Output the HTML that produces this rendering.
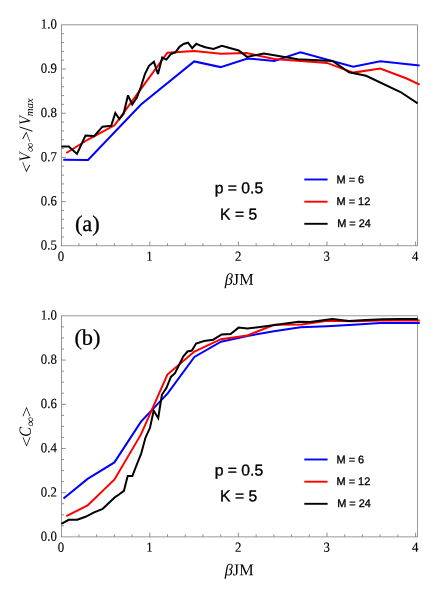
<!DOCTYPE html>
<html>
<head>
<meta charset="utf-8">
<title>Figure</title>
<style>
html,body{margin:0;padding:0;background:#fff;}
body{width:436px;height:596px;overflow:hidden;font-family:"Liberation Serif",serif;}
svg{display:block;will-change:transform;}
text{text-rendering:geometricPrecision;}
</style>
</head>
<body>
<svg width="436" height="596" viewBox="0 0 436 596">
<rect width="436" height="596" fill="#fff"/>
<rect x="61.5" y="24.85" width="355.95" height="220.95000000000002" fill="none" stroke="#707070" stroke-width="0.72"/>
<path d="M78.92,245.8V243.30M96.64,245.8V243.30M114.36,245.8V243.30M132.08,245.8V243.30M149.8,245.8V241.50M167.52,245.8V243.30M185.24,245.8V243.30M202.96,245.8V243.30M220.68,245.8V243.30M238.4,245.8V241.50M256.12,245.8V243.30M273.84,245.8V243.30M291.56,245.8V243.30M309.28,245.8V243.30M327.0,245.8V241.50M344.72,245.8V243.30M362.44,245.8V243.30M380.16,245.8V243.30M397.88,245.8V243.30M415.6,245.8V241.50M61.5,201.61H65.80M61.5,157.42H65.80M61.5,113.23H65.80M61.5,69.04H65.80M61.5,236.96H64.00M61.5,228.12H64.00M61.5,219.29H64.00M61.5,210.45H64.00M61.5,192.77H64.00M61.5,183.93H64.00M61.5,175.1H64.00M61.5,166.26H64.00M61.5,148.58H64.00M61.5,139.74H64.00M61.5,130.91H64.00M61.5,122.07H64.00M61.5,104.39H64.00M61.5,95.55H64.00M61.5,86.72H64.00M61.5,77.88H64.00M61.5,60.2H64.00M61.5,51.36H64.00M61.5,42.53H64.00M61.5,33.69H64.00" fill="none" stroke="#7c7c7c" stroke-width="0.85"/>
<polyline points="63.2,159.7 88.0,160.0 141.0,104.5 194.2,61.4 220.6,67.1 247.5,58.5 274.3,60.9 300.4,52.3 353.2,66.8 380.3,61.3 419.6,65.6" fill="none" stroke="#0000ff" stroke-width="2.0" stroke-linejoin="miter" stroke-miterlimit="3" stroke-linecap="butt"/>
<polyline points="66.3,153.0 88.0,139.5 114.5,125.3 141.2,88.7 167.4,52.7 194.2,50.9 220.8,53.7 246.3,53.0 274.3,59.0 327.0,62.9 353.2,72.6 380.3,68.6 406.7,78.5 419.6,84.6" fill="none" stroke="#ff0000" stroke-width="2.0" stroke-linejoin="miter" stroke-miterlimit="3" stroke-linecap="butt"/>
<polyline points="61.4,146.4 68.7,146.5 77.0,153.9 85.5,135.5 94.1,136.1 102.5,126.7 111.2,125.8 115.3,113.0 119.4,119.0 123.6,113.7 128.0,95.3 132.2,104.5 136.9,97.5 141.0,86.5 144.9,74.1 149.0,65.8 153.9,61.7 158.0,74.1 162.2,57.5 166.4,59.6 170.8,54.1 175.4,52.3 179.5,46.8 183.6,44.0 188.0,42.7 192.2,48.2 196.3,43.8 201.1,45.8 205.2,47.3 213.5,48.9 221.8,45.7 238.7,50.5 247.0,56.9 263.9,53.4 297.7,59.2 332.5,61.0 349.0,72.3 366.1,75.8 400.5,92.0 417.7,103.3" fill="none" stroke="#000000" stroke-width="2.0" stroke-linejoin="miter" stroke-miterlimit="3" stroke-linecap="butt"/>
<text transform="translate(56.9,249.55) rotate(0.05) scale(0.93,1)" font-family='"Liberation Serif", serif' font-size="13.8" text-anchor="end" stroke="#000" stroke-width="0.15">0.5</text>
<text transform="translate(56.9,205.36) rotate(0.05) scale(0.93,1)" font-family='"Liberation Serif", serif' font-size="13.8" text-anchor="end" stroke="#000" stroke-width="0.15">0.6</text>
<text transform="translate(56.9,161.17) rotate(0.05) scale(0.93,1)" font-family='"Liberation Serif", serif' font-size="13.8" text-anchor="end" stroke="#000" stroke-width="0.15">0.7</text>
<text transform="translate(56.9,116.98) rotate(0.05) scale(0.93,1)" font-family='"Liberation Serif", serif' font-size="13.8" text-anchor="end" stroke="#000" stroke-width="0.15">0.8</text>
<text transform="translate(56.9,72.79) rotate(0.05) scale(0.93,1)" font-family='"Liberation Serif", serif' font-size="13.8" text-anchor="end" stroke="#000" stroke-width="0.15">0.9</text>
<text transform="translate(56.9,28.6) rotate(0.05) scale(0.93,1)" font-family='"Liberation Serif", serif' font-size="13.8" text-anchor="end" stroke="#000" stroke-width="0.15">1.0</text>
<text transform="translate(60.9,260.7) rotate(0.05) scale(0.93,1)" font-family='"Liberation Serif", serif' font-size="13.8" text-anchor="middle" stroke="#000" stroke-width="0.15">0</text>
<text transform="translate(149.5,260.7) rotate(0.05) scale(0.93,1)" font-family='"Liberation Serif", serif' font-size="13.8" text-anchor="middle" stroke="#000" stroke-width="0.15">1</text>
<text transform="translate(238.1,260.7) rotate(0.05) scale(0.93,1)" font-family='"Liberation Serif", serif' font-size="13.8" text-anchor="middle" stroke="#000" stroke-width="0.15">2</text>
<text transform="translate(326.7,260.7) rotate(0.05) scale(0.93,1)" font-family='"Liberation Serif", serif' font-size="13.8" text-anchor="middle" stroke="#000" stroke-width="0.15">3</text>
<text transform="translate(415.3,260.7) rotate(0.05) scale(0.93,1)" font-family='"Liberation Serif", serif' font-size="13.8" text-anchor="middle" stroke="#000" stroke-width="0.15">4</text>
<text transform="translate(239.2,284.7) rotate(0.05)" font-family='"Liberation Serif", serif' font-size="16.3" text-anchor="middle" ><tspan font-style="italic">β</tspan>JM</text>
<text transform="translate(74.9,231.1) rotate(0.05)" font-family='"Liberation Serif", serif' font-size="22.4" text-anchor="start" stroke="#000" stroke-width="0.3">(a)</text>
<text transform="translate(214.7,193.2) rotate(0.05)" font-family='"Liberation Sans", sans-serif' font-size="15.7" text-anchor="start" stroke="#000" stroke-width="0.35">p = 0.5</text>
<text transform="translate(220.1,219.4) rotate(0.05)" font-family='"Liberation Sans", sans-serif' font-size="15.7" text-anchor="start" stroke="#000" stroke-width="0.35">K = 5</text>
<line x1="304.3" x2="327.6" y1="179.5" y2="179.5" stroke="#0000ff" stroke-width="1.9"/>
<text transform="translate(336.5,183.15) rotate(0.05)" font-family='"Liberation Sans", sans-serif' font-size="10.95" text-anchor="start" stroke="#000" stroke-width="0.32">M = 6</text>
<line x1="304.3" x2="327.6" y1="201.7" y2="201.7" stroke="#ff0000" stroke-width="1.9"/>
<text transform="translate(336.5,205.0) rotate(0.05)" font-family='"Liberation Sans", sans-serif' font-size="10.95" text-anchor="start" stroke="#000" stroke-width="0.32">M = 12</text>
<line x1="304.3" x2="327.6" y1="223.8" y2="223.8" stroke="#000000" stroke-width="1.9"/>
<text transform="translate(337.2,227.1) rotate(0.05)" font-family='"Liberation Sans", sans-serif' font-size="10.95" text-anchor="start" stroke="#000" stroke-width="0.32">M = 24</text>
<g transform="translate(29.8,0) rotate(-90.05)" font-family='"Liberation Serif", serif'>
<text transform="translate(-175.9,1.8) skewX(-21) scale(1.09,1)" font-size="16.5" font-style="italic">&lt;</text>
<text transform="translate(-161.5,0.3) scale(0.9,1)" font-size="16.3" font-style="italic">V</text>
<text transform="translate(-152.7,4.0) skewX(-14) scale(1.1,1)" font-size="12">∞</text>
<text transform="translate(-144.55,1.8) skewX(-21) scale(1.09,1)" font-size="16.5" font-style="italic">&gt;</text>
<text transform="translate(-131.8,2.3)" font-size="19">/</text>
<text transform="translate(-125.05,0.3) scale(0.9,1)" font-size="16.3" font-style="italic">V</text>
<text transform="translate(-116.2,3.2)" font-size="10.8" font-style="italic">max</text>
</g>
<rect x="61.5" y="315.85" width="355.95" height="221.04999999999995" fill="none" stroke="#707070" stroke-width="0.72"/>
<path d="M78.92,536.9V534.40M96.64,536.9V534.40M114.36,536.9V534.40M132.08,536.9V534.40M149.8,536.9V532.60M167.52,536.9V534.40M185.24,536.9V534.40M202.96,536.9V534.40M220.68,536.9V534.40M238.4,536.9V532.60M256.12,536.9V534.40M273.84,536.9V534.40M291.56,536.9V534.40M309.28,536.9V534.40M327.0,536.9V532.60M344.72,536.9V534.40M362.44,536.9V534.40M380.16,536.9V534.40M397.88,536.9V534.40M415.6,536.9V532.60M61.5,492.69H65.80M61.5,448.48H65.80M61.5,404.27H65.80M61.5,360.06H65.80M61.5,525.85H64.00M61.5,514.79H64.00M61.5,503.74H64.00M61.5,481.64H64.00M61.5,470.58H64.00M61.5,459.53H64.00M61.5,437.43H64.00M61.5,426.38H64.00M61.5,415.32H64.00M61.5,393.22H64.00M61.5,382.16H64.00M61.5,371.11H64.00M61.5,349.01H64.00M61.5,337.96H64.00M61.5,326.9H64.00" fill="none" stroke="#7c7c7c" stroke-width="0.85"/>
<polyline points="63.5,498.6 87.6,478.9 114.4,462.4 141.0,421.6 167.7,393.4 194.4,357.0 221.0,341.7 247.3,336.0 273.9,331.3 300.6,327.2 327.0,326.2 353.2,324.8 380.2,322.9 419.8,323.1" fill="none" stroke="#0000ff" stroke-width="2.0" stroke-linejoin="miter" stroke-miterlimit="3" stroke-linecap="butt"/>
<polyline points="66.3,516.1 87.6,505.5 114.5,479.4 141.0,434.4 167.4,374.5 194.4,351.5 221.0,339.2 247.2,335.5 274.2,324.8 301.8,324.5 327.2,320.8 353.2,321.2 380.4,320.6 419.8,320.4" fill="none" stroke="#ff0000" stroke-width="2.0" stroke-linejoin="miter" stroke-miterlimit="3" stroke-linecap="butt"/>
<polyline points="61.4,523.9 68.7,519.8 77.3,519.8 85.5,516.8 94.1,512.4 102.7,508.8 111.7,500.3 114.8,497.4 119.0,494.5 123.9,490.8 127.7,475.9 132.4,475.9 136.6,465.0 141.1,454.0 145.5,437.5 150.0,427.8 153.7,410.6 158.2,418.2 161.9,394.8 166.5,387.9 170.9,376.9 175.0,373.2 179.3,364.5 183.4,356.3 187.5,351.5 191.9,350.5 196.1,343.6 204.0,341.1 213.2,339.7 221.7,334.5 230.6,334.1 238.6,327.6 247.4,328.6 263.9,326.4 298.5,321.8 310.2,321.9 332.2,319.0 349.0,321.1 366.1,319.9 382.5,319.2 400.5,318.9 417.8,318.9" fill="none" stroke="#000000" stroke-width="2.0" stroke-linejoin="miter" stroke-miterlimit="3" stroke-linecap="butt"/>
<text transform="translate(56.9,540.65) rotate(0.05) scale(0.93,1)" font-family='"Liberation Serif", serif' font-size="13.8" text-anchor="end" stroke="#000" stroke-width="0.15">0.0</text>
<text transform="translate(56.9,496.44) rotate(0.05) scale(0.93,1)" font-family='"Liberation Serif", serif' font-size="13.8" text-anchor="end" stroke="#000" stroke-width="0.15">0.2</text>
<text transform="translate(56.9,452.23) rotate(0.05) scale(0.93,1)" font-family='"Liberation Serif", serif' font-size="13.8" text-anchor="end" stroke="#000" stroke-width="0.15">0.4</text>
<text transform="translate(56.9,408.02) rotate(0.05) scale(0.93,1)" font-family='"Liberation Serif", serif' font-size="13.8" text-anchor="end" stroke="#000" stroke-width="0.15">0.6</text>
<text transform="translate(56.9,363.81) rotate(0.05) scale(0.93,1)" font-family='"Liberation Serif", serif' font-size="13.8" text-anchor="end" stroke="#000" stroke-width="0.15">0.8</text>
<text transform="translate(56.9,319.6) rotate(0.05) scale(0.93,1)" font-family='"Liberation Serif", serif' font-size="13.8" text-anchor="end" stroke="#000" stroke-width="0.15">1.0</text>
<text transform="translate(60.9,551.7) rotate(0.05) scale(0.93,1)" font-family='"Liberation Serif", serif' font-size="13.8" text-anchor="middle" stroke="#000" stroke-width="0.15">0</text>
<text transform="translate(149.5,551.7) rotate(0.05) scale(0.93,1)" font-family='"Liberation Serif", serif' font-size="13.8" text-anchor="middle" stroke="#000" stroke-width="0.15">1</text>
<text transform="translate(238.1,551.7) rotate(0.05) scale(0.93,1)" font-family='"Liberation Serif", serif' font-size="13.8" text-anchor="middle" stroke="#000" stroke-width="0.15">2</text>
<text transform="translate(326.7,551.7) rotate(0.05) scale(0.93,1)" font-family='"Liberation Serif", serif' font-size="13.8" text-anchor="middle" stroke="#000" stroke-width="0.15">3</text>
<text transform="translate(415.3,551.7) rotate(0.05) scale(0.93,1)" font-family='"Liberation Serif", serif' font-size="13.8" text-anchor="middle" stroke="#000" stroke-width="0.15">4</text>
<text transform="translate(239.2,575.3) rotate(0.05)" font-family='"Liberation Serif", serif' font-size="16.3" text-anchor="middle" ><tspan font-style="italic">β</tspan>JM</text>
<text transform="translate(74.4,344.7) rotate(0.05)" font-family='"Liberation Serif", serif' font-size="22.4" text-anchor="start" stroke="#000" stroke-width="0.3">(b)</text>
<text transform="translate(214.7,475.4) rotate(0.05)" font-family='"Liberation Sans", sans-serif' font-size="15.7" text-anchor="start" stroke="#000" stroke-width="0.35">p = 0.5</text>
<text transform="translate(220.1,501.3) rotate(0.05)" font-family='"Liberation Sans", sans-serif' font-size="15.7" text-anchor="start" stroke="#000" stroke-width="0.35">K = 5</text>
<line x1="304.3" x2="327.6" y1="459.5" y2="459.5" stroke="#0000ff" stroke-width="1.9"/>
<text transform="translate(336.5,463.15) rotate(0.05)" font-family='"Liberation Sans", sans-serif' font-size="10.95" text-anchor="start" stroke="#000" stroke-width="0.32">M = 6</text>
<line x1="304.3" x2="327.6" y1="481.7" y2="481.7" stroke="#ff0000" stroke-width="1.9"/>
<text transform="translate(336.5,485.0) rotate(0.05)" font-family='"Liberation Sans", sans-serif' font-size="10.95" text-anchor="start" stroke="#000" stroke-width="0.32">M = 12</text>
<line x1="304.3" x2="327.6" y1="503.8" y2="503.8" stroke="#000000" stroke-width="1.9"/>
<text transform="translate(337.2,507.1) rotate(0.05)" font-family='"Liberation Sans", sans-serif' font-size="10.95" text-anchor="start" stroke="#000" stroke-width="0.32">M = 24</text>
<g transform="translate(29.8,0) rotate(-90.05)" font-family='"Liberation Serif", serif'>
<text transform="translate(-447.3,1.8) scale(1.18,1)" font-size="16.5">&lt;</text>
<text transform="translate(-436.7,0.5) scale(0.87,1)" font-size="17" font-style="italic">C</text>
<text transform="translate(-427.0,4.0) skewX(-8) scale(1.12,1)" font-size="12">∞</text>
<text transform="translate(-417.2,1.8) scale(1.18,1)" font-size="16.5">&gt;</text>
</g>
</svg>
</body>
</html>
